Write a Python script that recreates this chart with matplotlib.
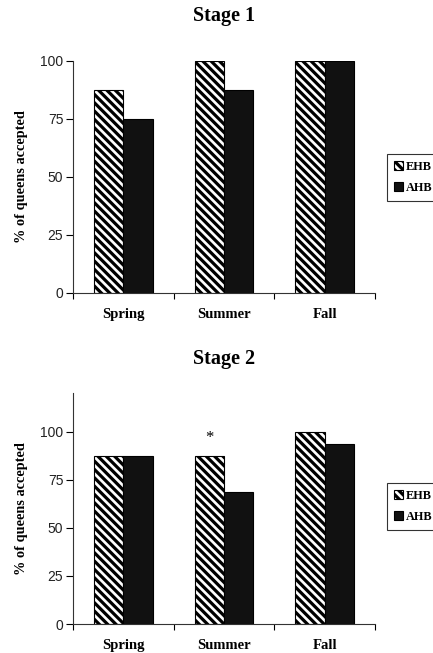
import numpy as np
import matplotlib
matplotlib.use("Agg")
from matplotlib import pyplot as plt

# data
seasons = ["Spring", "Summer", "Fall"]
stage1_ehb = [87.5, 100, 100]
stage1_ahb = [75, 87.5, 100]
stage2_ehb = [87.5, 87.5, 100]
stage2_ahb = [87.5, 68.75, 93.75]
yticks = [0, 25, 50, 75, 100]

plt.rcParams['hatch.linewidth'] = 2.3
serif = 'Liberation Serif'
sans = 'Liberation Sans'

fig = plt.figure(figsize=(4.33, 6.53), dpi=100)

def panel(rect, ehb, ahb, ymax, title, title_y):
    ax = fig.add_axes(rect)
    x = np.arange(len(seasons))
    w = 0.29
    ax.bar(x - w/2, ehb, w, facecolor='white', edgecolor='black', hatch='\\\\\\\\',
           linewidth=0.8, label='EHB')
    ax.bar(x + w/2, ahb, w, facecolor='#111111', edgecolor='black',
           linewidth=0.8, label='AHB')
    ax.set_xlim(-0.5, 2.5)
    ax.set_ylim(0, ymax)
    ax.set_yticks(yticks)
    ax.set_yticklabels([str(t) for t in yticks], fontfamily=sans, fontsize=10,
                       color='#222222')
    ax.set_xticks(x)
    ax.set_xticklabels(seasons, fontfamily=serif, fontweight='bold', fontsize=10.5)
    ax.set_xticks([-0.5, 0.5, 1.5, 2.5], minor=True)
    ax.tick_params(axis='x', which='major', length=0, pad=11)
    ax.tick_params(axis='x', which='minor', length=4, direction='out', width=0.8)
    ax.tick_params(axis='y', length=5, direction='out', width=0.8, pad=2)
    for s in ['top', 'right']:
        ax.spines[s].set_visible(False)
    for s in ['left', 'bottom']:
        ax.spines[s].set_linewidth(0.8)
        ax.spines[s].set_color('#333333')
    ax.set_ylabel('% of queens accepted', fontfamily=serif, fontweight='bold',
                  fontsize=10.3, labelpad=9)
    fig.text(224/433, title_y, title, ha='center', va='center',
             fontfamily=serif, fontweight='bold', fontsize=14.5)
    return ax

ax1 = panel([73/433, 1-293/653, 302/433, 232/653], stage1_ehb, stage1_ahb, 100,
            'Stage 1', 1-16/653)
ax2 = panel([73/433, 1-624/653, 302/433, 231/653], stage2_ehb, stage2_ahb, 120,
            'Stage 2', 1-359/653)
ax2.text(1 - 0.145, 96.5, '*', ha='center', va='center', fontfamily=serif, fontsize=12)

for ax, top in [(ax1, 154), (ax2, 483)]:
    leg = ax.legend(loc='upper left', bbox_to_anchor=(387/433, 1-top/653),
                    bbox_transform=fig.transFigure, frameon=True, fancybox=False,
                    prop={'family': serif, 'weight': 'bold', 'size': 8.8},
                    handlelength=0.75, handleheight=0.75, handletextpad=0.25,
                    borderpad=0.55, labelspacing=0.75, borderaxespad=0)
    leg.get_frame().set_edgecolor('black')
    leg.get_frame().set_linewidth(0.8)

fig.savefig('out.png', dpi=100)
